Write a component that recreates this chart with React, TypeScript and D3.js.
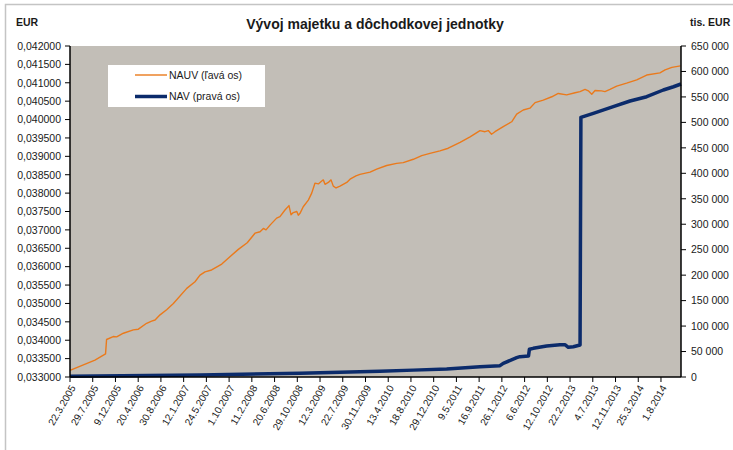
import React from "react";
import * as d3 from "d3";

const title = "Vývoj majetku a dôchodkovej jednotky";
const leftUnit = "EUR";
const rightUnit = "tis. EUR";
const seriesNames = ["NAUV (ľavá os)", "NAV (pravá os)"];

const xTickLabels = [
  "22.3.2005", "29.7.2005", "9.12.2005", "20.4.2006", "30.8.2006", "12.1.2007",
  "24.5.2007", "1.10.2007", "11.2.2008", "20.6.2008", "29.10.2008", "12.3.2009",
  "22.7.2009", "30.11.2009", "13.4.2010", "18.8.2010", "29.12.2010", "9.5.2011",
  "16.9.2011", "26.1.2012", "6.6.2012", "12.10.2012", "22.2.2013", "4.7.2013",
  "12.11.2013", "25.3.2014", "1.8.2014",
];
const lastDate = "21.11.2014";

const leftTicks = d3.range(0, 19).map((i) => 0.033 + i * 0.0005);
const rightTicks = d3.range(0, 14).map((i) => i * 50000);

const nauv: [string, number][] = [
  ["2005-03-22", 0.03318], ["2005-08-11", 0.03346], ["2005-10-12", 0.03363],
  ["2005-10-18", 0.03402], ["2005-11-26", 0.0341], ["2005-12-16", 0.03409],
  ["2006-01-24", 0.03419], ["2006-03-23", 0.03428], ["2006-04-21", 0.0343],
  ["2006-06-08", 0.03446], ["2006-07-07", 0.03452], ["2006-07-27", 0.03455],
  ["2006-08-25", 0.03469], ["2006-10-03", 0.03483], ["2006-11-12", 0.035],
  ["2007-01-30", 0.03541], ["2007-03-19", 0.03559], ["2007-04-17", 0.03577],
  ["2007-05-16", 0.03586], ["2007-06-23", 0.03591], ["2007-08-20", 0.03607],
  ["2007-09-26", 0.03623], ["2007-11-24", 0.03647], ["2008-01-15", 0.03665],
  ["2008-02-29", 0.03691], ["2008-03-29", 0.03695], ["2008-04-17", 0.03704],
  ["2008-05-02", 0.037], ["2008-05-25", 0.03713], ["2008-07-02", 0.03732],
  ["2008-07-21", 0.03736], ["2008-08-19", 0.03754], ["2008-09-11", 0.03766],
  ["2008-09-23", 0.03741], ["2008-10-06", 0.03747], ["2008-10-26", 0.0375],
  ["2008-11-04", 0.0374], ["2008-11-14", 0.03745], ["2008-12-03", 0.03763],
  ["2009-01-02", 0.03781], ["2009-01-22", 0.038], ["2009-02-10", 0.03827],
  ["2009-03-02", 0.03825], ["2009-03-22", 0.03833], ["2009-03-31", 0.03836],
  ["2009-04-10", 0.03824], ["2009-04-29", 0.03829], ["2009-05-15", 0.03836],
  ["2009-05-28", 0.03819], ["2009-06-13", 0.03814], ["2009-07-06", 0.03819],
  ["2009-08-14", 0.03829], ["2009-09-02", 0.03838], ["2009-10-06", 0.03847],
  ["2009-10-29", 0.03851], ["2009-12-27", 0.03857], ["2010-02-04", 0.03865],
  ["2010-04-04", 0.03875], ["2010-05-30", 0.03881], ["2010-07-06", 0.03883],
  ["2010-09-01", 0.03892], ["2010-10-20", 0.03902], ["2010-12-07", 0.03908],
  ["2011-02-03", 0.03915], ["2011-03-23", 0.03922], ["2011-05-30", 0.03938],
  ["2011-07-26", 0.03953], ["2011-09-21", 0.0397], ["2011-10-20", 0.03967],
  ["2011-11-08", 0.0397], ["2011-11-27", 0.0396], ["2011-12-17", 0.03967],
  ["2012-02-03", 0.03981], ["2012-03-23", 0.03994], ["2012-04-21", 0.04015],
  ["2012-05-29", 0.04026], ["2012-07-06", 0.04031], ["2012-08-04", 0.04046],
  ["2012-09-19", 0.04053], ["2012-11-07", 0.04062], ["2012-12-15", 0.04071],
  ["2013-02-02", 0.04067], ["2013-03-23", 0.04073], ["2013-04-21", 0.04076],
  ["2013-05-20", 0.04082], ["2013-06-08", 0.04078], ["2013-06-28", 0.04069],
  ["2013-07-17", 0.04079], ["2013-08-24", 0.04078], ["2013-09-12", 0.04076],
  ["2013-10-11", 0.04082], ["2013-11-19", 0.04091], ["2014-01-16", 0.04099],
  ["2014-03-16", 0.04108], ["2014-05-12", 0.04121], ["2014-07-26", 0.04127],
  ["2014-08-24", 0.04135], ["2014-10-01", 0.04142], ["2014-11-18", 0.04146],
];

const nav: [string, number][] = [
  ["2005-03-22", 1500], ["2007-04-17", 4000], ["2008-11-14", 7500],
  ["2010-02-23", 11500], ["2010-09-01", 13500], ["2011-03-14", 15700],
  ["2011-09-21", 20300], ["2012-01-15", 22200], ["2012-02-03", 26900],
  ["2012-04-21", 37900], ["2012-05-10", 39900], ["2012-06-28", 41200],
  ["2012-07-03", 54400], ["2012-07-25", 56300], ["2012-10-08", 60900],
  ["2012-12-25", 63400], ["2013-01-23", 63400], ["2013-02-12", 58300],
  ["2013-03-13", 59500], ["2013-04-21", 62800], ["2013-04-26", 510000],
  ["2013-07-07", 517800], ["2013-10-30", 530800], ["2014-02-05", 542000],
  ["2014-05-12", 550400], ["2014-08-14", 563600], ["2014-10-10", 570000],
  ["2014-11-21", 575400],
];

const W = 733;
const H = 450;
const plot = { left: 70, right: 681, top: 46, bottom: 377 };
const tickStep = 22.73;
const font = "'Liberation Sans', Arial, sans-serif";

const parseLabel = d3.timeParse("%d.%m.%Y");
const parseISO = d3.timeParse("%Y-%m-%d");

export default function App() {
  const tickDates = xTickLabels.map((s) => parseLabel(s) as Date);
  const x = d3
    .scaleTime()
    .domain([...tickDates, parseLabel(lastDate) as Date])
    .range([...tickDates.map((_, i) => plot.left + i * tickStep), plot.right]);
  const yL = d3.scaleLinear().domain([0.033, 0.042]).range([plot.bottom, plot.top]);
  const yR = d3.scaleLinear().domain([0, 650000]).range([plot.bottom, plot.top]);

  const lineL = d3
    .line<[string, number]>()
    .x((d) => x(parseISO(d[0]) as Date))
    .y((d) => yL(d[1]));
  const lineR = d3
    .line<[string, number]>()
    .x((d) => x(parseISO(d[0]) as Date))
    .y((d) => yR(d[1]));

  const fmtL = (v: number) => d3.format(".6f")(v).replace(".", ",");
  const fmtR = (v: number) => d3.format(",")(v).replace(/,/g, " ");

  const orange = "#ea7a1c";
  const navy = "#0b2b6b";
  const textCol = "#1a1a1a";

  return (
    <svg
      width={W}
      height={H}
      style={{ position: "absolute", left: 0, top: 0, background: "#fff" }}
      fontFamily={font}
    >
      <rect x={5.5} y={4.5} width={760} height={470} fill="#fff" stroke="#c4c4c4" strokeWidth={1.5} />
      <rect
        x={plot.left}
        y={plot.top}
        width={plot.right - plot.left}
        height={plot.bottom - plot.top}
        fill="#c2beb7"
      />

      <text x={375} y={28.5} textAnchor="middle" fontSize={14} fontWeight="bold" fill={textCol}>
        {title}
      </text>
      <text x={16} y={25.5} fontSize={10.5} fontWeight="bold" fill={textCol}>
        {leftUnit}
      </text>
      <text x={690} y={25.5} fontSize={10.5} fontWeight="bold" fill={textCol}>
        {rightUnit}
      </text>

      {/* left axis */}
      {leftTicks.map((t, i) => (
        <g key={"l" + i}>
          <line x1={plot.left - 5} x2={plot.left} y1={yL(t)} y2={yL(t)} stroke="#000" strokeWidth={1} />
          <text x={61} y={yL(t)} dy="0.36em" textAnchor="end" fontSize={10.5} fill={textCol}>
            {fmtL(t)}
          </text>
        </g>
      ))}
      {/* right axis */}
      {rightTicks.map((t, i) => (
        <g key={"r" + i}>
          <line x1={plot.right} x2={plot.right + 5} y1={yR(t)} y2={yR(t)} stroke="#000" strokeWidth={1} />
          <text x={691} y={yR(t)} dy="0.36em" textAnchor="start" fontSize={10.5} fill={textCol}>
            {fmtR(t)}
          </text>
        </g>
      ))}
      {/* x axis */}
      {tickDates.map((d, i) => (
        <g key={"x" + i}>
          <line x1={x(d)} x2={x(d)} y1={plot.bottom} y2={plot.bottom + 5} stroke="#000" strokeWidth={1} />
          <text
            transform={`translate(${x(d) + 3},${plot.bottom + 9}) rotate(-60)`}
            textAnchor="end"
            dy="0.35em"
            fontSize={10}
            fill={textCol}
          >
            {xTickLabels[i]}
          </text>
        </g>
      ))}

      <path d={lineR(nav) || ""} fill="none" stroke={navy} strokeWidth={3.5} strokeLinejoin="round" />
      <path d={lineL(nauv) || ""} fill="none" stroke={orange} strokeWidth={1.4} strokeLinejoin="round" />

      <line x1={plot.left} x2={plot.left} y1={plot.top} y2={plot.bottom} stroke="#000" strokeWidth={1.5} />
      <line x1={plot.right} x2={plot.right} y1={plot.top} y2={plot.bottom} stroke="#000" strokeWidth={1.5} />
      <line x1={plot.left} x2={plot.right} y1={plot.bottom} y2={plot.bottom} stroke="#000" strokeWidth={1.5} />

      {/* legend */}
      <rect x={108} y={65} width={157} height={42} fill="#fff" />
      <line x1={135} x2={167} y1={75} y2={75} stroke={orange} strokeWidth={1.4} />
      <text x={169} y={75} dy="0.35em" fontSize={10.5} fill={textCol}>
        {seriesNames[0]}
      </text>
      <line x1={135} x2={167} y1={96.5} y2={96.5} stroke={navy} strokeWidth={3.5} />
      <text x={169} y={96.5} dy="0.35em" fontSize={10.5} fill={textCol}>
        {seriesNames[1]}
      </text>
    </svg>
  );
}
